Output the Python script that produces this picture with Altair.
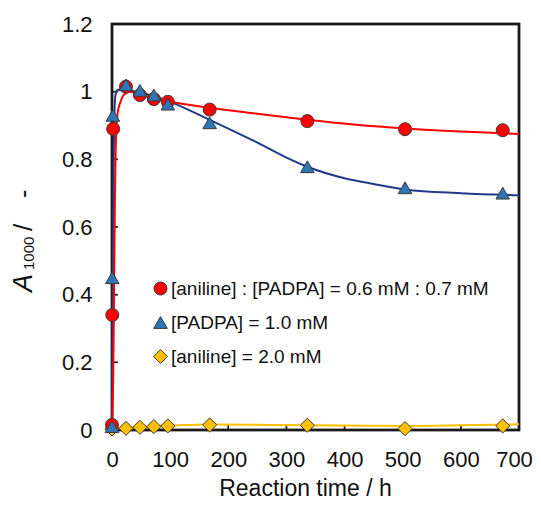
import altair as alt
import pandas as pd

# ---- data ----
series_names = ["[aniline] : [PADPA] = 0.6 mM : 0.7 mM",
                "[PADPA] = 1.0 mM",
                "[aniline] = 2.0 mM"]

red_t = [0, 0.5, 2, 24, 48, 72, 96, 168, 336, 504, 672]
red_y = [0.015, 0.34, 0.89, 1.015, 0.99, 0.978, 0.97, 0.947, 0.913, 0.889, 0.886]

blue_t = [0, 0.5, 1.5, 24, 48, 72, 96, 168, 336, 504, 672]
blue_y = [0.01, 0.45, 0.93, 1.02, 1.004, 0.99, 0.963, 0.908, 0.778, 0.716, 0.70]

yel_t = [0, 24, 48, 72, 96, 168, 336, 504, 672]
yel_y = [0.003, 0.005, 0.008, 0.01, 0.012, 0.015, 0.014, 0.004, 0.012]

# fitted curves
red_ct = [0, 2, 3, 4, 5, 6, 8, 10, 14, 20, 30, 50, 100, 170, 250, 336, 420, 504, 600, 700]
red_cy = [0.0, 0.15, 0.3, 0.5, 0.68, 0.8, 0.9, 0.94, 0.967, 0.99, 1.0, 0.99, 0.97, 0.952, 0.935, 0.917, 0.902, 0.891, 0.882, 0.875]

blue_ct = [0, 1, 2, 3, 4, 6, 10, 20, 40, 70, 100, 170, 255, 300, 336, 400, 450, 504, 600, 700]
blue_cy = [0.0, 0.3, 0.6, 0.82, 0.93, 0.99, 1.005, 1.008, 1.0, 0.988, 0.97, 0.915, 0.845, 0.805, 0.778, 0.744, 0.727, 0.711, 0.700, 0.694]

yel_ct = [0, 5, 24, 50, 100, 170, 336, 504, 600, 700]
yel_cy = [0.0, 0.005, 0.007, 0.01, 0.013, 0.016, 0.014, 0.012, 0.014, 0.017]

x_domain = [0, 700]
y_domain = [0, 1.2]
x_ticks = [0, 100, 200, 300, 400, 500, 600, 700]
y_ticks = [0, 0.2, 0.4, 0.6, 0.8, 1.0, 1.2]
x_inner_ticks = [100, 200, 300, 400, 500, 600]
y_inner_ticks = [0.2, 0.4, 0.6, 0.8, 1.0]

fill_colors = ["#ff0000", "#2e75b6", "#ffc000"]
line_colors = ["#ff0000", "#1f3a8a", "#ffc000"]
shapes = ["circle", "triangle-up", "diamond"]
sizes = [170, 200, 140]

FONT = "Liberation Sans"
INK = "#111111"
# frame colours: a mid-grey underlay and a dark overlay on top of it
FRAME_COLORS = ["#555555", "#1a1a1a"]

pts = pd.concat([
    pd.DataFrame({"t": red_t, "y": red_y, "s": series_names[0], "o": 1}),
    pd.DataFrame({"t": blue_t, "y": blue_y, "s": series_names[1], "o": 2}),
    pd.DataFrame({"t": yel_t, "y": yel_y, "s": series_names[2], "o": 0}),
])

xs = alt.Scale(domain=x_domain, nice=False, zero=False)
ys = alt.Scale(domain=y_domain, nice=False)

x_enc = alt.X("t:Q", scale=xs, axis=alt.Axis(
    values=x_ticks, format="d", ticks=False, tickSize=0, domain=False, grid=False,
    labelFlush=False, labelFontSize=22, labelPadding=19, labelFont=FONT, labelColor=INK,
    labelOffset={"expr": "datum.value == 700 ? -5 : 0"},
    title="Reaction time / h", titleFontSize=23, titleFont=FONT,
    titleFontWeight="normal", titleColor=INK, titleX=193, titleY=65,
    titleBaseline="alphabetic", titleAlign="center"))
y_enc = alt.Y("y:Q", scale=ys, axis=alt.Axis(
    values=y_ticks, format=".1~f", ticks=False, tickSize=0, domain=False, grid=False,
    labelFlush=False, labelFontSize=22, labelPadding=20, labelFont=FONT, labelColor=INK,
    title=None))

layers = []

frame_df = pd.DataFrame({
    "t": [x_domain[0], x_domain[1], x_domain[1], x_domain[0], x_domain[0]],
    "y": [y_domain[0], y_domain[0], y_domain[1], y_domain[1], y_domain[0]],
    "i": [0, 1, 2, 3, 4],
})
xtick_df = pd.DataFrame({"t": x_inner_ticks, "y0": [0.0] * len(x_inner_ticks),
                         "y1": [0.015] * len(x_inner_ticks)})
ytick_df = pd.DataFrame({"y": y_inner_ticks, "t0": [0.0] * len(y_inner_ticks),
                         "t1": [10.0] * len(y_inner_ticks)})

for fc in FRAME_COLORS:
    layers.append(
        alt.Chart(frame_df).mark_line(color=fc, strokeWidth=2.5)
        .encode(x=x_enc, y=y_enc, order=alt.Order("i:Q"))
    )
    layers.append(
        alt.Chart(xtick_df).mark_rule(color=fc, strokeWidth=1.5)
        .encode(x=alt.X("t:Q", scale=xs), y=alt.Y("y0:Q", scale=ys), y2="y1:Q")
    )
    layers.append(
        alt.Chart(ytick_df).mark_rule(color=fc, strokeWidth=1.5)
        .encode(y=alt.Y("y:Q", scale=ys), x=alt.X("t0:Q", scale=xs), x2="t1:Q")
    )

for ct, cy, col in [(yel_ct, yel_cy, line_colors[2]),
                    (blue_ct, blue_cy, line_colors[1]),
                    (red_ct, red_cy, line_colors[0])]:
    layers.append(
        alt.Chart(pd.DataFrame({"t": ct, "y": cy}))
        .mark_line(color=col, strokeWidth=2, interpolate="monotone")
        .encode(x=x_enc, y=y_enc)
    )

points = alt.Chart(pts).mark_point(filled=True, stroke="#3a3a3a", strokeWidth=1, opacity=1).encode(
    x=alt.X("t:Q", scale=xs),
    y=alt.Y("y:Q", scale=ys),
    color=alt.Color("s:N", scale=alt.Scale(domain=series_names, range=fill_colors),
                    legend=alt.Legend(orient="none", legendX=39, legendY=255, title=None,
                                      labelFontSize=19, labelFont=FONT, labelColor=INK,
                                      labelLimit=500, symbolSize=150, rowPadding=14,
                                      padding=0, labelOffset=1,
                                      symbolStrokeColor="#3a3a3a", symbolStrokeWidth=1)),
    shape=alt.Shape("s:N", scale=alt.Scale(domain=series_names, range=shapes)),
    size=alt.Size("s:N", scale=alt.Scale(domain=series_names, range=sizes), legend=None),
    order=alt.Order("o:Q"),
)
layers.append(points)

# y-axis title with italic A and subscript 1000
title_parts = [("A", 27, "italic", -80, 268),
               ("1000", 15, "normal", -78, 246),
               ("/", 26, "normal", -80, 207),
               ("-", 25, "normal", -80, 174)]
for txt, fs, st, px, py in title_parts:
    layers.append(
        alt.Chart(pd.DataFrame({"k": [txt]})).mark_text(
            text=txt, fontSize=fs, fontStyle=st, font=FONT, angle=270,
            align="left", baseline="alphabetic", color=INK)
        .encode(x=alt.value(px), y=alt.value(py))
    )

chart = alt.layer(*layers).properties(
    width=407, height=406,
    background="white",
    autosize=alt.AutoSizeParams(type="none"),
    padding={"left": 104, "top": 16, "right": 14, "bottom": 71},
).configure_view(stroke="#000000", strokeWidth=2)

chart.save("out.html", embed_options={"renderer": "svg", "actions": False})
